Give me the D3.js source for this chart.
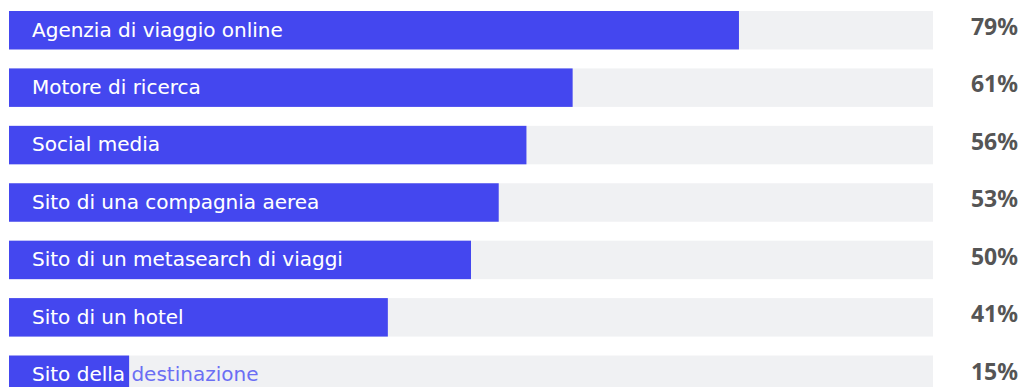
<!DOCTYPE html>
<html>
<head>
<meta charset="utf-8">
<script src="https://cdn.jsdelivr.net/npm/d3@7"></script>
<style>
  html, body { margin: 0; padding: 0; background: #fff; overflow: hidden; }
</style>
</head>
<body>
<script>
// data
var categories = ["Agenzia di viaggio online", "Motore di ricerca", "Social media",
  "Sito di una compagnia aerea", "Sito di un metasearch di viaggi", "Sito di un hotel",
  "Sito della destinazione"];
// bar lengths as drawn (the last bar is drawn shorter than its label)
var barValues = [79, 61, 56, 53, 50, 41, 13];
var valueLabels = ["79%", "61%", "56%", "53%", "50%", "41%", "15%"];

var width = 1021, height = 387;
var blue = "#4447ef";

var svg = d3.select("body").append("svg")
    .attr("width", width)
    .attr("height", height);

var x = d3.scaleLinear().domain([0, 100]).range([9, 933]);
var y = d3.scaleBand().domain(categories).range([11, 394]).paddingInner(0.33).paddingOuter(0);

var rows = svg.selectAll(".row")
    .data(categories)
    .enter().append("g")
    .attr("class", "row")
    .attr("transform", function(d) { return "translate(0," + y(d) + ")"; });

// grey track
rows.append("rect")
    .attr("x", x(0))
    .attr("width", x(100) - x(0))
    .attr("height", y.bandwidth())
    .attr("fill", "#f0f1f3");

// blue bar
rows.append("rect")
    .attr("x", x(0))
    .attr("width", function(d, i) { return x(barValues[i]) - x(0); })
    .attr("height", y.bandwidth())
    .attr("fill", blue);

// clip paths so the label is white over the bar and blue over the track
rows.append("clipPath")
    .attr("id", function(d, i) { return "clip" + i; })
  .append("rect")
    .attr("x", x(0))
    .attr("width", function(d, i) { return x(barValues[i]) - x(0); })
    .attr("height", y.bandwidth());

function label(sel) {
  sel.attr("x", 32)
    .attr("y", y.bandwidth() / 2)
    .attr("dy", "0.32em")
    .attr("font-family", "'DejaVu Sans', sans-serif")
    .attr("font-size", "20px")
    .text(function(d) { return d; });
}

rows.append("text").call(label).attr("fill", "#6b6ef3");
rows.append("text").call(label).attr("fill", "#fff")
    .attr("clip-path", function(d, i) { return "url(#clip" + i + ")"; });

// percentage on the right
rows.append("text")
    .attr("x", 1018)
    .attr("y", y.bandwidth() / 2)
    .attr("dy", "0.21em")
    .attr("text-anchor", "end")
    .attr("font-family", "'Noto Sans', sans-serif")
    .attr("font-weight", 700)
    .attr("font-size", "23px")
    .attr("fill", "#555")
    .text(function(d, i) { return valueLabels[i]; });
</script>
</body>
</html>
